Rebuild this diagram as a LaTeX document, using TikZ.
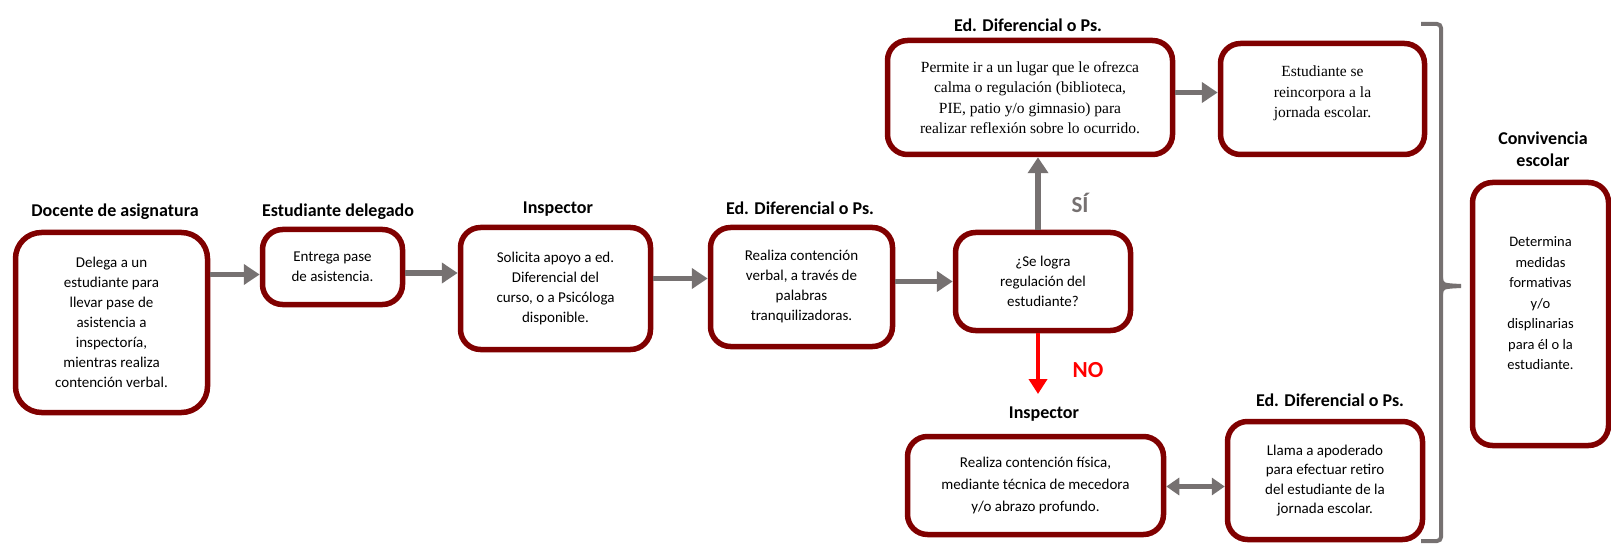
\documentclass[tikz,border=0pt]{standalone}
\usepackage{fontspec}
\setmainfont{Carlito}
\newfontfamily\timesf{Liberation Serif}
\usetikzlibrary{arrows.meta}
\definecolor{borde}{RGB}{128,0,0}
\definecolor{gris}{RGB}{118,113,113}
\definecolor{rojo}{RGB}{255,0,0}

\begin{document}
\begin{tikzpicture}[x=1pt,y=-1pt,
  caja/.style={draw=borde, line width=5.5pt, rounded corners=20pt, fill=white, align=center,
    inner sep=0pt, font=\fontsize{15}{20}\selectfont},
  cajat/.style={caja, font=\timesf\fontsize{15.5}{20.4}\selectfont},
  titulo/.style={inner sep=0pt, align=center, font=\bfseries\fontsize{18}{22}\selectfont},
  flecha/.style={draw=gris, line width=5.5pt, -{Triangle[length=16pt,width=20pt]}},
  doble/.style={draw=gris, line width=4.5pt, {Triangle[length=13pt,width=17pt]}-{Triangle[length=13pt,width=17pt]}},
  flecharoja/.style={draw=rojo, line width=4pt, -{Triangle[length=15pt,width=18pt]}},
  corchete/.style={draw=gris, line width=4pt, rounded corners=4pt}]
\useasboundingbox (0,0) rectangle (1611,545);

\node[caja, minimum width=192pt, minimum height=180pt, rounded corners=26pt] (doc) at (111.5,322.5)
  {Delega a un\\estudiante para\\llevar pase de\\asistencia a\\inspectoría,\\mientras realiza\\contención verbal.};
\node[titulo] (tdoc) at (115,212) {Docente de asignatura};

\node[caja, minimum width=140pt, minimum height=75pt] (del) at (332.5,267)
  {Entrega pase\\de asistencia.};
\node[titulo] (tdel) at (338,212) {Estudiante delegado};

\node[caja, minimum width=190pt, minimum height=122pt] (insp) at (555.5,288.5)
  {Solicita apoyo a ed.\\Diferencial del\\curso, o a Psicóloga\\disponible.};
\node[titulo] (tinsp) at (558,209) {Inspector};

\node[caja, minimum width=182pt, minimum height=119pt] (edd) at (801.5,287)
  {Realiza contención\\verbal, a través de\\palabras\\tranquilizadoras.};
\node[titulo] (tedd) at (800,208) {Ed. Diferencial o Ps.};

\node[caja, minimum width=175pt, minimum height=98pt] (preg) at (1043,281.5)
  {¿Se logra\\regulación del\\estudiante?};

\node[cajat, minimum width=285pt, minimum height=114pt] (perm) at (1030,97.5)
  {Permite ir a un lugar que le ofrezca\\calma o regulación (biblioteca,\\PIE, patio y/o gimnasio) para\\realizar reflexión sobre lo ocurrido.};
\node[titulo] (tperm) at (1028,25) {Ed. Diferencial o Ps.};

\node[cajat, minimum width=204pt, minimum height=111pt, text depth=14pt] (reinc) at (1322.5,99)
  {Estudiante se\\reincorpora a la\\jornada escolar.};

\node[caja, minimum width=256pt, minimum height=98pt, font=\fontsize{15}{22.3}\selectfont] (insp2) at (1035.5,485.5)
  {Realiza contención física,\\mediante técnica de mecedora\\y/o abrazo profundo.};
\node[titulo] (tinsp2) at (1044,414) {Inspector};

\node[caja, minimum width=195pt, minimum height=118pt, font=\fontsize{15}{19.6}\selectfont] (llama) at (1325,480.5)
  {Llama a apoderado\\para efectuar retiro\\del estudiante de la\\jornada escolar.};
\node[titulo] (tllama) at (1330,400) {Ed. Diferencial o Ps.};

\node[caja, minimum width=136pt, minimum height=263pt, text depth=21pt, font=\fontsize{14.5}{20.5}\selectfont] (conv) at (1540.5,314)
  {Determina\\medidas\\formativas\\y/o\\displinarias\\para él o la\\estudiante.};
\node[titulo] (tconv) at (1543,149) {Convivencia\\escolar};

\node[inner sep=0pt, text=gris, font=\bfseries\fontsize{23}{23}\selectfont] (si) at (1080,203) {SÍ};
\node[inner sep=0pt, text=rojo, font=\bfseries\fontsize{23}{23}\selectfont] (no) at (1088,370) {NO};

\coordinate (xsi) at (1038,0);
\coordinate (fno) at (1038,394);

\draw[flecha] ([yshift=48pt]doc.east) -- ([yshift=48pt]doc.east -| del.west);
\draw[flecha] ([yshift=-6pt]del.east) -- ([yshift=-6pt]del.east -| insp.west);
\draw[flecha] ([yshift=10pt]insp.east) -- ([yshift=10pt]insp.east -| edd.west);
\draw[flecha] (preg.west -| edd.east) -- (preg.west);
\draw[flecha] (preg.north -| xsi) -- (perm.south -| xsi);
\draw[flecha] ([yshift=5pt]perm.east) -- ([yshift=5pt]perm.east -| reinc.west);
\draw[flecharoja] (preg.south -| fno) -- (fno);
\draw[doble] ([yshift=-1pt]insp2.east) -- ([yshift=-1pt]insp2.east -| llama.west);

\draw[corchete] (1421,24) -- (1441,24) -- (1441,541) -- (1421,541);
\draw[corchete] (1441,278) .. controls (1442,285) .. (1461,286);
\draw[corchete] (1441,294) .. controls (1442,287) .. (1461,286);
\end{tikzpicture}
\end{document}
